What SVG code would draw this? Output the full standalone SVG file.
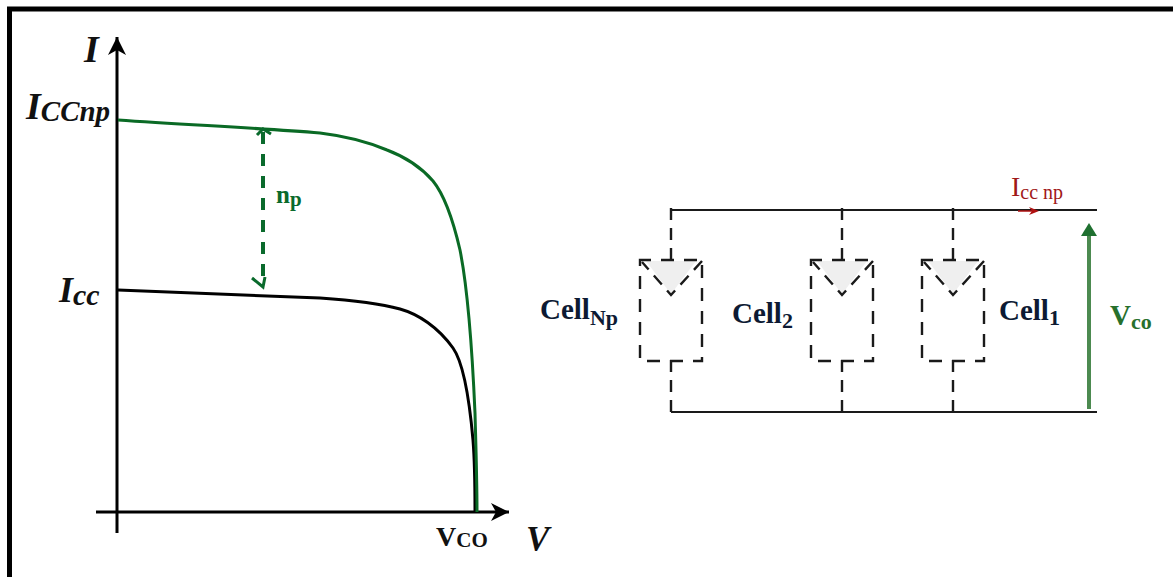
<svg xmlns="http://www.w3.org/2000/svg" width="1173" height="577" viewBox="0 0 1173 577">
<defs>
<style>
.t{font-family:"Liberation Serif","Times New Roman",serif;font-weight:bold}
.i{font-style:italic}
.n{font-weight:normal}
.w{fill:none;stroke:#1a1a1a;stroke-width:2}
.d{fill:none;stroke:#1a1a1a;stroke-width:2.400;stroke-dasharray:12 8}
.b{fill:none;stroke:#1a1a1a;stroke-width:2.400;stroke-dasharray:13 10}
.g{fill:#efefef;stroke:none}
</style>
<marker id="ak" markerUnits="userSpaceOnUse" markerWidth="20" markerHeight="20" refX="18" refY="10" orient="auto"><path d="M0 1L18 10L0 19L5 10Z" fill="#000"/></marker>
<g id="cell-shape">
<path class="d" d="M0 -52V0"/>
<path class="g" d="M-25 1H25L0 34Z"/>
<path class="b" d="M-31 0H31V101H-31Z" stroke-dashoffset="2"/>
<path class="d" d="M-29 2L0 35L31 1" stroke-dashoffset="2"/>
<path class="d" d="M0 100V152"/>
</g>
</defs>
<rect id="frame" x="9.500" y="9" width="1180" height="580" fill="#fff" stroke="#000" stroke-width="5"/>
<g id="connectors">
<path d="M117 533V37" fill="none" stroke="#000" stroke-width="3" marker-end="url(#ak)"/>
<path d="M96 512H509" fill="none" stroke="#000" stroke-width="3" marker-end="url(#ak)"/>
<path d="M118 290C190 293 260 295 320 298C350 300 378 303 400 309C418 314 438 327 453 348C463 362 469 395 473 440C475 465 475 490 475 512" fill="none" stroke="#000" stroke-width="3"/>
<path d="M118 120C190 125 260 128 320 133C345 136 368 142 387 150C403 156 420 166 433 181C446 197 454 224 460 250C467 285 472 345 475 413C476 450 477 480 477 512" fill="none" stroke="#0a6a25" stroke-width="3"/>
<path d="M263 132V286" fill="none" stroke="#0a6a2c" stroke-width="4" stroke-dasharray="12 10"/>
<path d="M257 135L263 129L271 134M252 278L263 287L265 277" fill="none" stroke="#0a6a2c" stroke-width="3"/>
<path class="w" d="M671 210H1097M671 412H1097"/>
<path d="M1018 211H1032" fill="none" stroke="#b01010" stroke-width="1.500"/>
<path d="M1029 207L1039 211L1029 215L1032 211Z" fill="#b01010"/>
<path d="M1089 409V235" fill="none" stroke="#4c8a50" stroke-width="4"/>
<path d="M1081 236L1089 223L1097 236Z" fill="#1f7030"/>
</g>
<g id="cell-np"><use href="#cell-shape" x="671" y="260"/></g>
<g id="cell-2"><use href="#cell-shape" x="842" y="260"/></g>
<g id="cell-1"><use href="#cell-shape" x="953" y="260"/></g>
<g id="labels" class="t">
<text class="t i" x="84" y="62" font-size="38" fill="#111">I</text>
<text class="t i" x="26" y="119" font-size="38" fill="#111">I<tspan font-size="29" dy="2">CCnp</tspan></text>
<text class="t i" x="59" y="302" font-size="36" fill="#111">I<tspan font-size="30" dy="3">cc</tspan></text>
<text class="t" x="276" y="203" font-size="25" fill="#0a6a2c">n<tspan font-size="21" dy="3">p</tspan></text>
<text class="t" x="436" y="546" font-size="28" fill="#111">V<tspan font-size="21" dy="1">CO</tspan></text>
<text class="t i" x="526" y="551" font-size="35" fill="#111">V</text>
<text class="t" x="540" y="319" font-size="29" fill="#0d1a33">Cell<tspan font-size="22" dy="6">Np</tspan></text>
<text class="t" x="732" y="323" font-size="29" fill="#0d1a33">Cell<tspan font-size="22" dy="5">2</tspan></text>
<text class="t" x="999" y="320" font-size="29" fill="#0d1a33">Cell<tspan font-size="22" dy="5">1</tspan></text>
<text class="t n" x="1011" y="196" font-size="28" fill="#a01818">I<tspan font-size="20" dy="3">cc np</tspan></text>
<text class="t" x="1110" y="325" font-size="29" fill="#27702c">V<tspan font-size="22" dy="4">co</tspan></text>
</g>
</svg>
